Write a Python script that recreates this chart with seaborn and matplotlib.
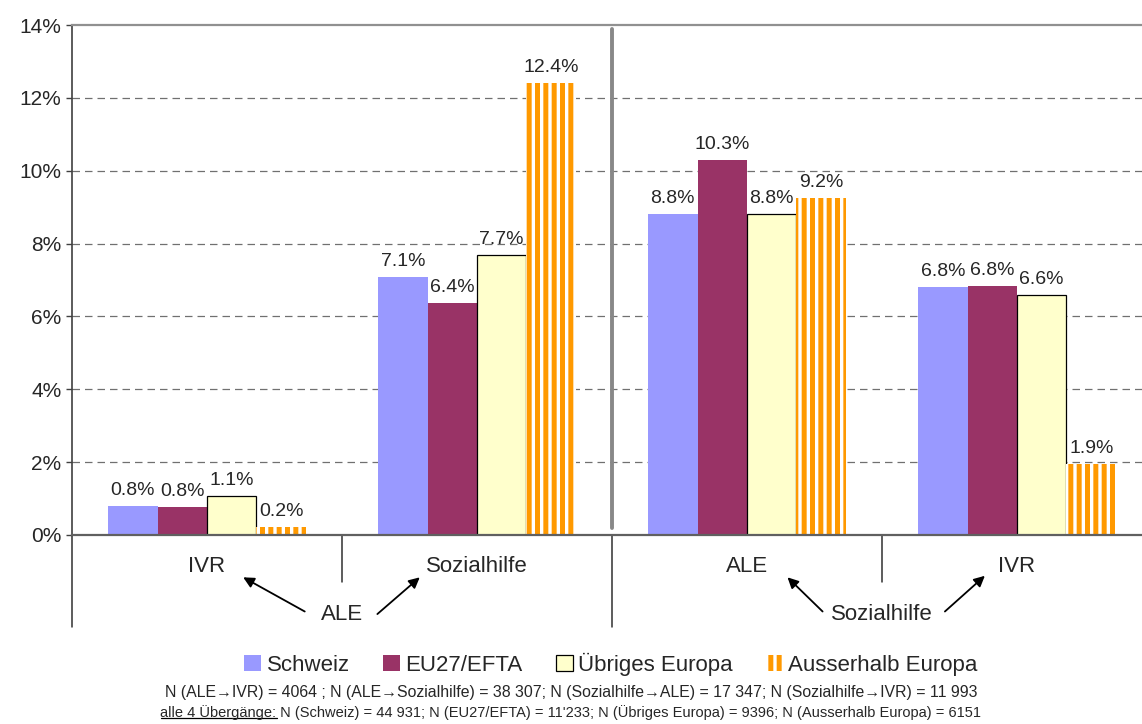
import numpy as np
import pandas as pd
import matplotlib
matplotlib.use("Agg")
import matplotlib.pyplot as plt
from matplotlib.lines import Line2D
import matplotlib.transforms as mtransforms
import seaborn as sns

# --- data (share of transitions, %) ---
uebergaenge = ["ALE→IVR", "ALE→Sozialhilfe", "Sozialhilfe→ALE", "Sozialhilfe→IVR"]
ziel_labels = ["IVR", "Sozialhilfe", "ALE", "IVR"]
start_labels = ["ALE", "Sozialhilfe"]
herkunft = ["Schweiz", "EU27/EFTA", "Übriges Europa", "Ausserhalb Europa"]
schweiz = [0.79, 7.09, 8.81, 6.81]
eu27_efta = [0.76, 6.38, 10.29, 6.83]
uebriges_europa = [1.07, 7.69, 8.81, 6.59]
ausserhalb_europa = [0.21, 12.40, 9.24, 1.94]
farben = ["#9999FF", "#993366", "#FFFFCC", "#FF9900"]

fussnote_1 = ("N (ALE→IVR) = 4064 ; N (ALE→Sozialhilfe) = 38 307; "
              "N (Sozialhilfe→ALE) = 17 347; N (Sozialhilfe→IVR) = 11 993")
fussnote_2_prefix = "alle 4 Übergänge:"
fussnote_2_rest = (" N (Schweiz) = 44 931; N (EU27/EFTA) = 11'233; "
                   "N (Übriges Europa) = 9396; N (Ausserhalb Europa) = 6151")

df = pd.DataFrame({
    "uebergang": uebergaenge * 4,
    "herkunft": np.repeat(herkunft, 4),
    "anteil": schweiz + eu27_efta + uebriges_europa + ausserhalb_europa,
})

sns.set_style("white")
plt.rcParams["font.family"] = ["Liberation Sans", "DejaVu Sans"]
plt.rcParams["hatch.linewidth"] = 3.6
plt.rcParams["hatch.color"] = "#FF9900"

W, H = 1142, 724
fig = plt.figure(figsize=(W / 100, H / 100), dpi=100)
ax = fig.add_axes([72 / W, 1 - 535 / H, 1080 / W, 510 / H])

sns.barplot(data=df, x="uebergang", y="anteil", hue="herkunft",
            order=uebergaenge, hue_order=herkunft, palette=farben,
            width=0.733, saturation=1, gap=0, legend=False, ax=ax)

for i, cont in enumerate(ax.containers):
    for bar in cont:
        if i == 2:
            bar.set_edgecolor("black")
            bar.set_linewidth(0.9)
        elif i == 3:
            bar.set_facecolor("white")
            bar.set_edgecolor("#FF9900")
            bar.set_linewidth(0)
            bar.set_hatch("||")
        else:
            bar.set_edgecolor("none")
            bar.set_linewidth(0)
    ax.bar_label(cont, labels=[f"{v:.1f}%" for v in cont.datavalues],
                 padding=5, fontsize=14)

ax.set_ylim(0, 14)
ax.set_xlim(-0.5, 3.5)
ax.set_yticks(np.arange(0, 15, 2))
ax.set_yticklabels([f"{t}%" for t in range(0, 15, 2)])
ax.set_xticks(range(4))
ax.set_xticklabels(ziel_labels)
ax.set_xlabel("")
ax.set_ylabel("")
ax.tick_params(axis="y", length=4.5, width=1, color="#404040", pad=3,
               labelsize=15, left=True, direction="out")
ax.tick_params(axis="x", length=0, pad=15, labelsize=16)

for y in range(2, 14, 2):
    ax.axhline(y, color="#707070", lw=0.9, ls=(0, (6, 4)), zorder=0)

ax.spines["right"].set_visible(False)
ax.spines["top"].set_color("#909090")
ax.spines["top"].set_linewidth(1.6)
ax.spines["left"].set_color("#404040")
ax.spines["left"].set_linewidth(1.2)
ax.spines["bottom"].set_color("#606060")
ax.spines["bottom"].set_linewidth(1.6)

# gray divider between the two starting states
ax.plot([1.5, 1.5], [0.2, 13.9], color="#888888", lw=2.8, zorder=3)

# separator lines below the axis
trans = mtransforms.blended_transform_factory(ax.transData, ax.transAxes)
for x, y0 in [(-0.5, -0.18), (0.5, -0.092), (1.5, -0.18), (2.5, -0.092)]:
    ax.add_line(Line2D([x, x], [0, y0], transform=trans, color="#303030",
                       lw=1.1, clip_on=False))

# starting state labels with arrows
y_start = -0.155
for xc, lab in zip([0.5, 2.5], start_labels):
    ax.text(xc, y_start, lab, transform=trans, ha="center", va="center",
            fontsize=16)
arrows = [((0.362, -0.15), (0.134, -0.083)),
          ((0.631, -0.155), (0.788, -0.083)),
          ((2.280, -0.15), (2.150, -0.083)),
          ((2.733, -0.15), (2.881, -0.080))]
for tail, head in arrows:
    ax.annotate("", xy=head, xycoords=trans, xytext=tail, textcoords=trans,
                arrowprops=dict(arrowstyle="-|>", color="black", lw=1.3,
                                mutation_scale=16, shrinkA=0, shrinkB=0),
                annotation_clip=False)

# legend
handles = [cont.patches[0] for cont in ax.containers]
fig.legend(handles, herkunft, loc="center", bbox_to_anchor=(611 / W, 1 - 664 / H),
           ncol=4, frameon=False, fontsize=16, handlelength=0.75,
           handleheight=0.75, handletextpad=0.25, columnspacing=1.5)

# footnotes
fig.text(0.5, 1 - 692 / H, fussnote_1, ha="center", va="center", fontsize=11.4)
fs2 = 10.5
t2 = fig.text(0.5, 1 - 713 / H, fussnote_2_prefix + fussnote_2_rest,
              ha="center", va="center", fontsize=fs2)
fig.canvas.draw()
r = fig.canvas.get_renderer()
bb = t2.get_window_extent(r)
tmp = fig.text(0, 0, fussnote_2_prefix, fontsize=fs2)
wpre = tmp.get_window_extent(r).width
tmp.remove()
y_ul = (bb.y0 + 2) / H
fig.add_artist(Line2D([bb.x0 / W, (bb.x0 + wpre) / W], [y_ul, y_ul],
                      color="black", lw=0.9))

fig.savefig("out.png", dpi=100)
